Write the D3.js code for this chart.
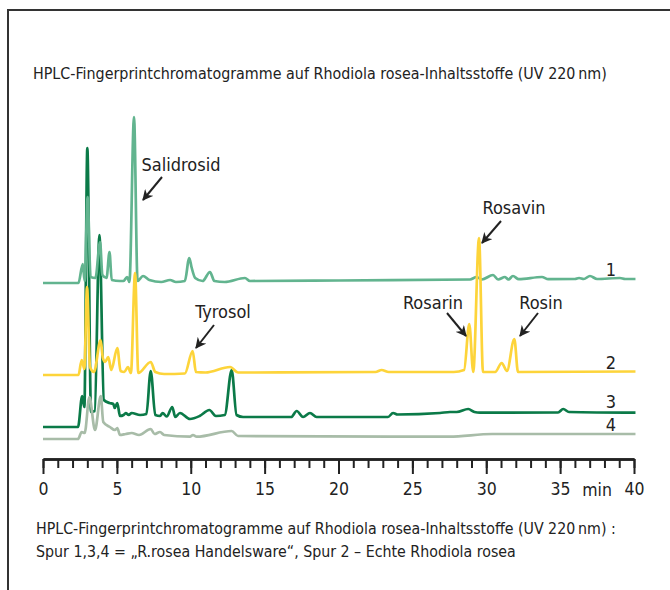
<!DOCTYPE html>
<html>
<head>
<meta charset="utf-8">
<script src="https://cdn.jsdelivr.net/npm/d3@7/dist/d3.min.js"></script>
<style>
  body { margin: 0; background: #fff; }
  svg text { font-family: "DejaVu Sans Condensed", "Liberation Sans Narrow", "DejaVu Sans", sans-serif; font-stretch: condensed; fill: #222; }
</style>
</head>
<body>
<div id="chart"></div>
<script>
'use strict';

// chromatogram data: [retention time (min), signal above trace baseline]
var trace1 = [
  [0, 0], [2.40, 0], [2.69, 19], [2.82, 2], [3.02, 86], [3.22, 6], [3.55, 5],
  [3.86, 41], [4.02, 8], [4.30, 5], [4.50, 31], [4.65, 3], [5.20, 2], [5.45, 2],
  [5.69, 6], [5.85, 1], [6.16, 166], [6.40, 2], [6.77, 7], [7.20, 3], [8.00, 1],
  [8.60, 3], [9.00, 1], [9.60, 2], [9.90, 25], [10.05, 16], [10.30, 5], [10.80, 2],
  [11.30, 11], [11.60, 2], [12.30, 1], [13.67, 5], [14.00, 2], [20.0, 2.5],
  [28.9, 3.5], [29.35, 6], [29.7, 3.5], [30.46, 8], [30.8, 3.5], [31.27, 6], [31.5, 3.5],
  [31.81, 7], [32.2, 3.8], [33.77, 6], [34.2, 3.8], [36.0, 4], [36.28, 5], [36.6, 4],
  [37.02, 7], [37.5, 4], [39.05, 5], [39.4, 4], [40.1, 4]
];
var trace2 = [
  [0, 0], [2.40, 0], [2.62, 15], [2.80, 6], [2.98, 88], [3.18, 8], [3.45, 3],
  [3.90, 35], [4.05, 17], [4.20, 13], [4.42, 18], [4.62, 5], [5.03, 27], [5.25, 4],
  [5.50, 3], [5.75, 8], [5.95, 2], [6.23, 102], [6.45, 2], [7.29, 13], [7.60, 3],
  [8.20, 1], [9.60, 1.5], [10.13, 24], [10.35, 3], [11.00, 2.5], [12.66, 8],
  [13.20, 2.5], [22.5, 3], [22.92, 5], [23.4, 3], [27.8, 3], [28.5, 5], [28.85, 51],
  [29.12, 3], [29.51, 137], [29.78, 3], [30.6, 3], [31.05, 12], [31.40, 4], [31.90, 36],
  [32.15, 3], [40.1, 3.5]
];
var trace3 = [
  [0, 0], [2.37, 0], [2.65, 31], [2.80, 20], [3.00, 279], [3.25, 15], [3.50, 16],
  [3.82, 192], [4.12, 27], [4.50, 24], [4.76, 23], [4.85, 19], [5.03, 24], [5.21, 11],
  [5.45, 12], [5.60, 14], [5.80, 12], [6.00, 14], [6.57, 12], [7.00, 13], [7.29, 56],
  [7.60, 12], [7.92, 11], [8.10, 14], [8.37, 10.5], [8.75, 20], [8.95, 10], [9.27, 14],
  [9.95, 8], [10.60, 11], [11.26, 17], [11.70, 11], [12.30, 12], [12.77, 57], [13.10, 12],
  [13.54, 10], [16.8, 10], [17.17, 16], [17.60, 10], [18.07, 14], [18.52, 10],
  [23.35, 10], [23.69, 14], [24.0, 12.5], [26.87, 14], [27.55, 15], [28.0, 15],
  [28.78, 18], [29.2, 15], [29.58, 14.3], [34.86, 14.5], [35.21, 18], [35.6, 15],
  [40.1, 14.3]
];
var trace4 = [
  [0, 0], [2.37, 0], [2.62, 7], [2.82, 6], [3.14, 42], [3.52, 9], [3.91, 43],
  [4.08, 17], [4.53, 12], [4.87, 9], [5.03, 11], [5.21, 4], [5.60, 5], [6.00, 6],
  [6.50, 4], [7.29, 10], [7.55, 5], [7.92, 7], [8.20, 4], [9.95, 2.3], [10.15, 4],
  [10.4, 2.3], [12.77, 8], [13.20, 3], [27.5, 2.3], [30.4, 5], [40.1, 5]
];

var traces = [trace1, trace2, trace3, trace4];
var traceNames = ['1', '2', '3', '4'];
var traceOffsets = [176, 84, 32, 20];
var traceColors = ['#62b48f', '#fdd43a', '#0b7a48', '#a8bca8'];
var drawOrder = [2, 3, 0, 1];

var xTicks = [0, 5, 10, 15, 20, 25, 30, 35, 40];
var axisUnit = 'min';

var peakNames = ['Salidrosid', 'Tyrosol', 'Rosavin', 'Rosarin', 'Rosin'];

var title = 'HPLC-Fingerprintchromatogramme auf Rhodiola rosea-Inhaltsstoffe (UV 220\u2009nm)';
var caption = [
  'HPLC-Fingerprintchromatogramme auf Rhodiola rosea-Inhaltsstoffe (UV 220\u2009nm) :',
  'Spur 1,3,4 = \u201eR.rosea Handelsware\u201c, Spur 2 \u2013 Echte Rhodiola rosea'
];

var svg, x, y;

function setup(){
    svg = d3.select('#chart').append('svg')
        .attr('width', 670)
        .attr('height', 590);

    x = d3.scaleLinear().domain([0, 40]).range([43, 634]);
    y = d3.scaleLinear().domain([0, 350]).range([459, 109]);

    draw();
}

function draw(){
    var line, axisG, minor, major;

    // frame
    svg.append('path')
        .attr('d', 'M8,590V10H670')
        .attr('fill', 'none')
        .attr('stroke', '#333')
        .attr('stroke-width', 2);

    svg.append('text')
        .attr('x', 33)
        .attr('y', 79)
        .style('font-size', '15.9px')
        .text(title);

    // traces
    drawOrder.forEach(function(i){
        line = d3.line()
            .x(function(d){ return x(d[0]); })
            .y(function(d){ return y(d[1] + traceOffsets[i]); })
            .curve(d3.curveMonotoneX);
        svg.append('path')
            .datum(traces[i])
            .attr('fill', 'none')
            .attr('stroke', traceColors[i])
            .attr('stroke-width', 2.7)
            .attr('stroke-linejoin', 'round')
            .attr('d', line);
    });

    // trace numbers
    var numY = [270, 363, 402, 425];
    svg.selectAll('.trace-num').data(traceNames).enter().append('text')
        .attr('class', 'trace-num')
        .attr('x', 611)
        .attr('y', function(d, i){ return numY[i] + 6; })
        .attr('text-anchor', 'middle')
        .style('font-size', '18px')
        .text(function(d){ return d; });

    // peak annotations
    var marker = svg.append('defs').append('marker')
        .attr('id', 'head')
        .attr('viewBox', '0 0 10 10')
        .attr('refX', 9)
        .attr('refY', 5)
        .attr('markerWidth', 5.5)
        .attr('markerHeight', 5.5)
        .attr('markerUnits', 'strokeWidth')
        .attr('orient', 'auto');
    marker.append('path')
        .attr('d', 'M0,0L10,5L0,10L3,5Z')
        .attr('fill', '#222');

    var annot = [
        {tip: [143, 200], tail: [162, 177], tx: 181, ty: 171},
        {tip: [196, 348], tail: [214, 325], tx: 223, ty: 318},
        {tip: [482, 243], tail: [501, 221], tx: 514, ty: 214},
        {tip: [466, 336], tail: [447, 313], tx: 433, ty: 309},
        {tip: [520, 336], tail: [538, 313], tx: 541, ty: 309}
    ];
    peakNames.forEach(function(name, i){
        var a = annot[i];
        svg.append('line')
            .attr('x1', a.tail[0]).attr('y1', a.tail[1])
            .attr('x2', a.tip[0]).attr('y2', a.tip[1])
            .attr('stroke', '#222')
            .attr('stroke-width', 2)
            .attr('marker-end', 'url(#head)');
        svg.append('text')
            .attr('x', a.tx)
            .attr('y', a.ty)
            .attr('text-anchor', 'middle')
            .style('font-size', '18px')
            .text(name);
    });

    // time axis
    axisG = svg.append('g').attr('transform', 'translate(0,459)');
    minor = axisG.append('g')
        .call(d3.axisBottom(x).tickValues(d3.range(0, 41)).tickSize(9).tickSizeOuter(0).tickFormat(''));
    major = axisG.append('g')
        .call(d3.axisBottom(x).tickValues(xTicks).tickSize(15).tickSizeOuter(0).tickPadding(9));
    axisG.selectAll('.domain').attr('stroke', '#222').attr('stroke-width', 2.5);
    axisG.selectAll('.tick line').attr('stroke', '#222').attr('stroke-width', 2);
    major.selectAll('.tick text')
        .attr('fill', '#222')
        .style('font-size', '17.5px')
        .style('font-family', null);
    axisG.append('text')
        .attr('x', x(37.5))
        .attr('y', 37)
        .attr('text-anchor', 'middle')
        .style('font-size', '17.5px')
        .text(axisUnit);

    svg.selectAll('.caption').data(caption).enter().append('text')
        .attr('class', 'caption')
        .attr('x', 36)
        .attr('y', function(d, i){ return 534 + i * 23; })
        .style('font-size', '15.8px')
        .text(function(d){ return d; });
}

setup();
</script>
</body>
</html>
